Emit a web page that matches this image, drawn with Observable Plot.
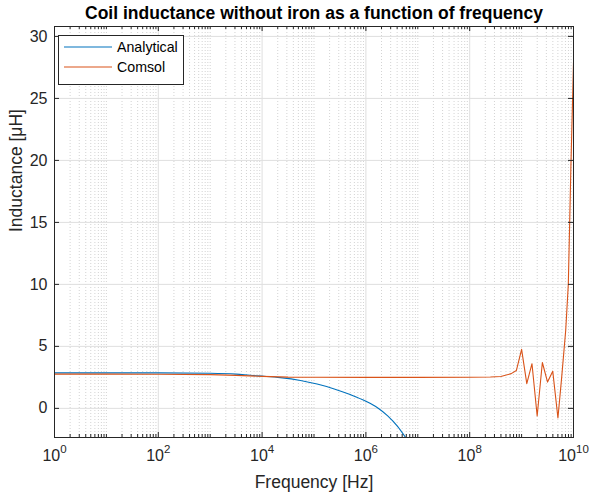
<!DOCTYPE html>
<html>
<head>
<meta charset="utf-8">
<script src="https://cdn.jsdelivr.net/npm/d3@7"></script>
<script src="https://cdn.jsdelivr.net/npm/@observablehq/plot@0.6"></script>
<style>
  html, body { margin: 0; padding: 0; background: #fff; }
  #wrap { position: relative; width: 590px; height: 493px; font-family: "Liberation Sans", Arial, Helvetica, sans-serif; }
  #legend { position: absolute; left: 58px; top: 35px; }
</style>
</head>
<body>
<div id="wrap"></div>
<script>
// ---- Data ----
const titleText = "Coil inductance without iron as a function of frequency";
const xLabel = "Frequency [Hz]";
const seriesNames = ["Analytical", "Comsol"];
const seriesColors = ["#0072BD", "#D95319"];

// Analytical: log10(frequency) and inductance [µH]
const analyticalExp = [0, 1, 2, 3, 3.5, 3.77, 4, 4.35, 4.74, 5.06, 5.39, 5.71, 6.0, 6.23, 6.42, 6.61, 6.77];
const analyticalL   = [2.86, 2.86, 2.86, 2.83, 2.76, 2.67, 2.60, 2.48, 2.25, 1.96, 1.57, 1.09, 0.57, 0.03, -0.60, -1.45, -2.38];

// Comsol: log10(frequency) and inductance [µH]
const comsolExp = [0, 1, 2, 3, 3.5, 4, 4.5, 5, 6, 7, 8, 8.4, 8.6, 8.8, 8.9, 9.0, 9.1, 9.2, 9.3, 9.4, 9.5, 9.6, 9.7, 9.77, 9.85, 9.9, 9.95, 10];
const comsolL   = [2.76, 2.76, 2.75, 2.72, 2.66, 2.58, 2.52, 2.51, 2.50, 2.50, 2.51, 2.53, 2.57, 2.80, 3.06, 4.76, 1.99, 3.60, -0.62, 3.70, 2.12, 3.00, -0.78, 2.4, 6.3, 10.0, 19.5, 27.9];

// Tick values
const xMajorExp = [0, 2, 4, 6, 8, 10];
const yTicks = [0, 5, 10, 15, 20, 25, 30];
const yDomain = [-2.35, 30.8];

// ---- Derived tables ----
const analytical = analyticalExp.map((e, i) => ({f: Math.pow(10, e), L: analyticalL[i]}));
const comsol = comsolExp.map((e, i) => ({f: Math.pow(10, e), L: comsolL[i]}));
const xMajor = xMajorExp.map(e => Math.pow(10, e));
const xMinor = [];
for (let k = 0; k < 10; k++) {
  if (k % 2 === 1) xMinor.push(Math.pow(10, k));
  for (let m = 2; m <= 9; m++) xMinor.push(m * Math.pow(10, k));
}

const W = 590, H = 493;
const mL = 54, mR = 17, mT = 26, mB = 56;
const fw = W - mL - mR, fh = H - mT - mB;
const ink = "#262626";

const chart = Plot.plot({
  width: W, height: H,
  marginLeft: mL, marginRight: mR, marginTop: mT, marginBottom: mB,
  style: {fontFamily: "'Liberation Sans', Arial, Helvetica, sans-serif", color: ink, background: "white", overflow: "visible"},
  x: {type: "log", domain: [1, 1e10]},
  y: {domain: yDomain},
  marks: [
    // grids
    Plot.ruleX(xMinor, {stroke: "#c8c8c8", strokeWidth: 0.8, strokeDasharray: "1,2"}),
    Plot.ruleX(xMajor, {stroke: "#dfdfdf", strokeWidth: 1}),
    Plot.ruleY(yTicks, {stroke: "#dfdfdf", strokeWidth: 1}),
    // data
    Plot.line(analytical, {x: "f", y: "L", stroke: seriesColors[0], strokeWidth: 1.1, curve: "monotone-x", clip: true}),
    Plot.line(comsol, {x: "f", y: "L", stroke: seriesColors[1], strokeWidth: 1.1, clip: true}),
    // inward ticks
    Plot.tickX(xMajor, {stroke: ink, insetTop: fh - 5}),
    Plot.tickX(xMajor, {stroke: ink, insetBottom: fh - 5}),
    Plot.tickX(xMinor, {stroke: ink, insetTop: fh - 3}),
    Plot.tickX(xMinor, {stroke: ink, insetBottom: fh - 3}),
    Plot.tickY(yTicks, {stroke: ink, insetRight: fw - 5}),
    Plot.tickY(yTicks, {stroke: ink, insetLeft: fw - 5}),
    Plot.frame({stroke: ink, strokeWidth: 1}),
    // axes labels
    Plot.axisX(xMajor, {tickSize: 0, tickPadding: 12, fontSize: 16, label: null,
      tickFormat: d => "10^" + Math.round(Math.log10(d))}),
    Plot.axisY(yTicks, {tickSize: 0, tickPadding: 7, fontSize: 16, label: null}),
    Plot.text([xLabel], {frameAnchor: "bottom", text: d => d, dy: 45, fontSize: 17.5, fill: ink, lineAnchor: "middle"}),
    Plot.text(["Inductance [μH]"], {frameAnchor: "left", text: d => d, dx: -38, rotate: -90, fontSize: 17.5, fill: ink, lineAnchor: "middle", ariaLabel: "ylabel"}),
    Plot.text([titleText], {frameAnchor: "top", text: d => d, dy: -13, fontSize: 17.5, fontWeight: "bold", fill: "#000", lineAnchor: "middle"})
  ]
});

document.getElementById("wrap").appendChild(chart);

const ns = "http://www.w3.org/2000/svg";
// superscript exponents on x tick labels
chart.querySelectorAll('g[aria-label="x-axis tick label"] text').forEach(t => {
  const s = t.textContent;
  const m = s.match(/^10\^(\d+)$/);
  if (m) {
    t.textContent = "";
    const a = document.createElementNS(ns, "tspan"); a.textContent = "10";
    const b = document.createElementNS(ns, "tspan"); b.textContent = m[1];
    b.setAttribute("dy", "-8"); b.setAttribute("font-size", "11.5");
    t.appendChild(a); t.appendChild(b);
  }
});
// italic mu in y label
chart.querySelectorAll('g[aria-label="ylabel"] text').forEach(t => {
  t.textContent = "";
  const parts = [["Inductance [", null], ["μ", "italic"], ["H]", null]];
  parts.forEach(([s, st]) => {
    const sp = document.createElementNS(ns, "tspan"); sp.textContent = s;
    if (st) { sp.setAttribute("font-style", st); sp.setAttribute("font-family", "'DejaVu Serif', 'Liberation Serif', serif"); }
    t.appendChild(sp);
  });
});

// legend
const lg = d3.create("svg").attr("id", "legend").attr("width", 126).attr("height", 50);
lg.append("rect").attr("x", 0.5).attr("y", 0.5).attr("width", 125).attr("height", 49)
  .attr("fill", "white").attr("stroke", ink).attr("stroke-width", 1);
seriesNames.forEach((name, i) => {
  const yy = 12 + i * 20;
  lg.append("line").attr("x1", 6).attr("x2", 54).attr("y1", yy).attr("y2", yy)
    .attr("stroke", seriesColors[i]).attr("stroke-width", 1.1);
  lg.append("text").attr("x", 59).attr("y", yy).attr("dy", "0.35em")
    .attr("font-size", 14.2).attr("fill", "#000")
    .attr("font-family", "'Liberation Sans', Arial, sans-serif").text(name);
});
document.getElementById("wrap").appendChild(lg.node());
</script>
</body>
</html>
